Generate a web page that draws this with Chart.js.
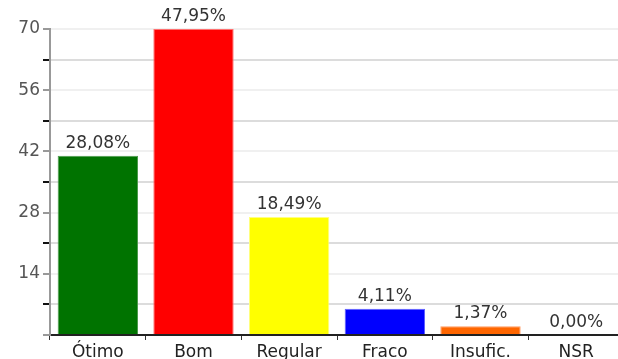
<!DOCTYPE html>
<html>
<head>
<meta charset="utf-8">
<script src="https://cdn.jsdelivr.net/npm/chart.js@4/dist/chart.umd.min.js"></script>
<style>
  html, body { margin: 0; padding: 0; background: #fff; overflow: hidden; }
  #wrap { width: 624px; height: 365px; }
</style>
</head>
<body>
<div id="wrap"><canvas id="grafico" width="624" height="365"></canvas></div>
<script>
// categorias y respuestas (conteos)
const categorias = ["Ótimo", "Bom", "Regular", "Fraco", "Insufic.", "NSR"];
const respostas = [41, 70, 27, 6, 2, 0];
const cores = ["#007300", "#ff0000", "#ffff00", "#0000ff", "#ff6600", "#999999"];
const bordas = ["#4c9a4c", "#ff7070", "#ffff80", "#6060ff", "#ff9a60", "#999999"];
const yMax = 70;
const yPasso = 7;

const total = respostas.reduce((a, b) => a + b, 0);
const porcentagens = respostas.map(v => (v / total * 100).toFixed(2).replace('.', ',') + '%');

const fonte = '"DejaVu Sans", Verdana, sans-serif';

// escreve o percentual em cima de cada barra
const rotulosBarras = {
  id: 'rotulosBarras',
  afterDatasetsDraw(chart) {
    const ctx = chart.ctx;
    const meta = chart.getDatasetMeta(0);
    ctx.save();
    ctx.font = '17px ' + fonte;
    ctx.fillStyle = '#333';
    ctx.textAlign = 'center';
    ctx.textBaseline = 'alphabetic';
    meta.data.forEach((bar, i) => {
      ctx.fillText(porcentagens[i], bar.x, bar.y - 8);
    });
    ctx.restore();
  }
};

new Chart(document.getElementById('grafico').getContext('2d'), {
  type: 'bar',
  data: {
    labels: categorias,
    datasets: [{
      data: respostas,
      backgroundColor: cores,
      borderColor: bordas,
      borderWidth: { left: 1, right: 1, top: 1, bottom: 0 },
      categoryPercentage: 1,
      barPercentage: 0.84
    }]
  },
  options: {
    responsive: false,
    animation: false,
    layout: { padding: { top: 29, left: 0, right: 0, bottom: 0 } },
    plugins: {
      legend: { display: false },
      tooltip: { enabled: false }
    },
    scales: {
      x: {
        afterFit(scale) { scale.height = 30; },
        border: { color: '#222', width: 2 },
        grid: {
          drawOnChartArea: false,
          drawTicks: true,
          tickLength: 5,
          tickColor: '#333',
          tickWidth: 1
        },
        ticks: {
          color: '#222',
          padding: 2,
          font: { family: fonte, size: 17 }
        }
      },
      y: {
        min: 0,
        max: yMax,
        afterFit(scale) { scale.width = 50; },
        border: { color: '#999', width: 2 },
        grid: {
          color: c => (c.tick && c.tick.value % 14 === 0) ? '#f0f0f0' : '#dcdcdc',
          lineWidth: 2,
          tickLength: 7,
          tickWidth: 2,
          tickColor: c => (c.tick && c.tick.value % 14 === 0) ? '#999' : '#111'
        },
        ticks: {
          stepSize: yPasso,
          padding: 3,
          color: '#555',
          font: { family: fonte, size: 17 },
          callback: v => (v > 0 && v % 14 === 0) ? v : ''
        }
      }
    }
  },
  plugins: [rotulosBarras]
});
</script>
</body>
</html>
